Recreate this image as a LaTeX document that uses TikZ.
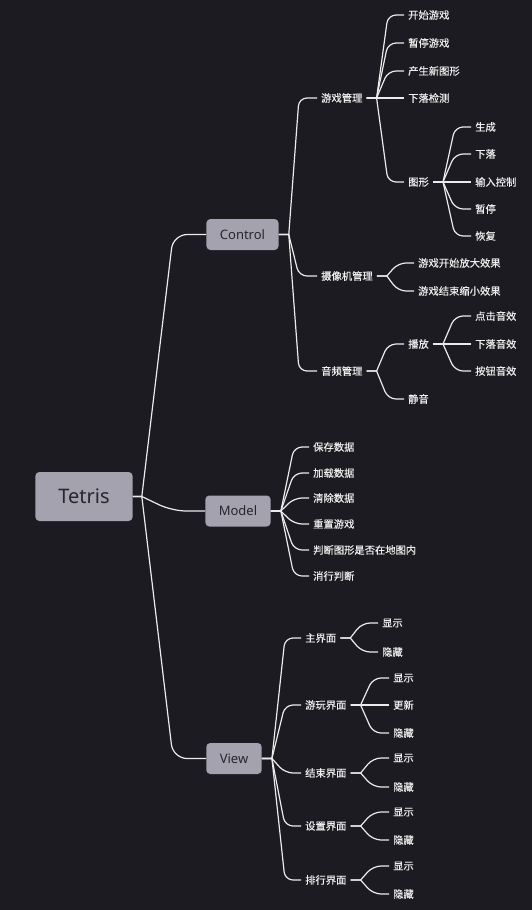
\documentclass[tikz,border=0pt]{standalone}
\usepackage{fontspec}
\setmainfont{Noto Sans}
\newfontfamily\cjk[FakeBold=0.3]{Noto Sans CJK SC}
\usepackage{xcolor}
\usepackage{tikz}
\definecolor{canvas}{HTML}{1C1B21}
\definecolor{topicfill}{HTML}{A3A2AE}
\definecolor{topictext}{HTML}{27262C}
\definecolor{leaftext}{HTML}{EEEEEE}
\definecolor{twigline}{HTML}{EBEBEB}
\newcommand{\twig}[3][16pt]{\draw[twig] (#2.east) -- ++(10pt,0) [rounded corners=8pt] -- ([xshift=-#1]#3.west) -- (#3.west);}
\newcommand{\limb}[2]{\draw[twig] (#1.east) -- ++(9pt,0) [rounded corners=14pt] -- ([xshift=-33pt]#2.west) -- (#2.west);}

\begin{document}
\begin{tikzpicture}[x=1pt,y=-1pt,
  topic/.style={fill=topicfill,text=topictext,rounded corners=4pt,inner xsep=13.5pt,minimum height=31pt,font=\fontsize{13pt}{15pt}\selectfont},
  root/.style={topic,inner xsep=23pt,minimum height=49pt,font=\fontsize{20pt}{24pt}\selectfont},
  leaf/.style={anchor=west,text=leaftext,inner xsep=4pt,inner ysep=2pt,font=\fontsize{10.3pt}{12pt}\cjk},
  twig/.style={draw=twigline,line width=1.2pt}]
  \fill[canvas] (0,0) rectangle (532,910);
  \useasboundingbox (0,0) rectangle (532,910);
  % main topics
  \node[root] (tetris) at (84,496.5) {Tetris};
  \node[topic] (control) at (242.5,234.5) {Control};
  \node[topic] (model) at (238,511) {Model};
  \node[topic] (view) at (234,758.5) {View};
  \limb{tetris}{control}
  \limb{tetris}{model}
  \limb{tetris}{view}
  % Control
  \node[leaf] (gm) at (317,98) {游戏管理};
  \node[leaf] (cam) at (317,276) {摄像机管理};
  \node[leaf] (aud) at (317,371) {音频管理};
  \twig[18pt]{control}{gm}
  \twig[18pt]{control}{cam}
  \twig[18pt]{control}{aud}
  \node[leaf] (gmstart) at (404,15) {开始游戏};
  \node[leaf] (gmpause) at (404,43) {暂停游戏};
  \node[leaf] (gmspawn) at (404,71) {产生新图形};
  \node[leaf] (gmdrop) at (404,98) {下落检测};
  \node[leaf] (shape) at (404,182) {图形};
  \twig{gm}{gmstart}
  \twig{gm}{gmpause}
  \twig{gm}{gmspawn}
  \twig{gm}{gmdrop}
  \twig{gm}{shape}
  \node[leaf] (shgen) at (471,127) {生成};
  \node[leaf] (shfall) at (471,154) {下落};
  \node[leaf] (shinput) at (471,182) {输入控制};
  \node[leaf] (shpause) at (471,209) {暂停};
  \node[leaf] (shresume) at (471,236) {恢复};
  \twig{shape}{shgen}
  \twig{shape}{shfall}
  \twig{shape}{shinput}
  \twig{shape}{shpause}
  \twig{shape}{shresume}
  \node[leaf] (camin) at (414,263) {游戏开始放大效果};
  \node[leaf] (camout) at (414,291) {游戏结束缩小效果};
  \twig{cam}{camin}
  \twig{cam}{camout}
  \node[leaf] (play) at (404,344) {播放};
  \node[leaf] (mute) at (404,399) {静音};
  \twig{aud}{play}
  \twig{aud}{mute}
  \node[leaf] (sndclick) at (471,316) {点击音效};
  \node[leaf] (sndfall) at (471,344) {下落音效};
  \node[leaf] (sndbtn) at (471,371) {按钮音效};
  \twig{play}{sndclick}
  \twig{play}{sndfall}
  \twig{play}{sndbtn}
  % Model
  \node[leaf] (save) at (309,447) {保存数据};
  \node[leaf] (load) at (309,473) {加载数据};
  \node[leaf] (clear) at (309,498) {清除数据};
  \node[leaf] (reset) at (309,524) {重置游戏};
  \node[leaf] (inmap) at (309,550) {判断图形是否在地图内};
  \node[leaf] (lines) at (309,576) {消行判断};
  \twig[15pt]{model}{save}
  \twig[15pt]{model}{load}
  \twig[15pt]{model}{clear}
  \twig[15pt]{model}{reset}
  \twig[15pt]{model}{inmap}
  \twig[15pt]{model}{lines}
  % View
  \node[leaf] (mainui) at (301,638) {主界面};
  \node[leaf] (playui) at (301,705) {游玩界面};
  \node[leaf] (endui) at (301,773) {结束界面};
  \node[leaf] (setui) at (301,826) {设置界面};
  \node[leaf] (rankui) at (301,880) {排行界面};
  \twig{view}{mainui}
  \twig{view}{playui}
  \twig{view}{endui}
  \twig{view}{setui}
  \twig{view}{rankui}
  \node[leaf] (mainshow) at (378,623) {显示};
  \node[leaf] (mainhide) at (378,652) {隐藏};
  \twig{mainui}{mainshow}
  \twig{mainui}{mainhide}
  \node[leaf] (playshow) at (389,678) {显示};
  \node[leaf] (playupd) at (389,705) {更新};
  \node[leaf] (playhide) at (389,733) {隐藏};
  \twig{playui}{playshow}
  \twig{playui}{playupd}
  \twig{playui}{playhide}
  \node[leaf] (endshow) at (389,758) {显示};
  \node[leaf] (endhide) at (389,787) {隐藏};
  \twig{endui}{endshow}
  \twig{endui}{endhide}
  \node[leaf] (setshow) at (389,812) {显示};
  \node[leaf] (sethide) at (389,840) {隐藏};
  \twig{setui}{setshow}
  \twig{setui}{sethide}
  \node[leaf] (rankshow) at (389,866) {显示};
  \node[leaf] (rankhide) at (389,894) {隐藏};
  \twig{rankui}{rankshow}
  \twig{rankui}{rankhide}
\end{tikzpicture}
\end{document}
